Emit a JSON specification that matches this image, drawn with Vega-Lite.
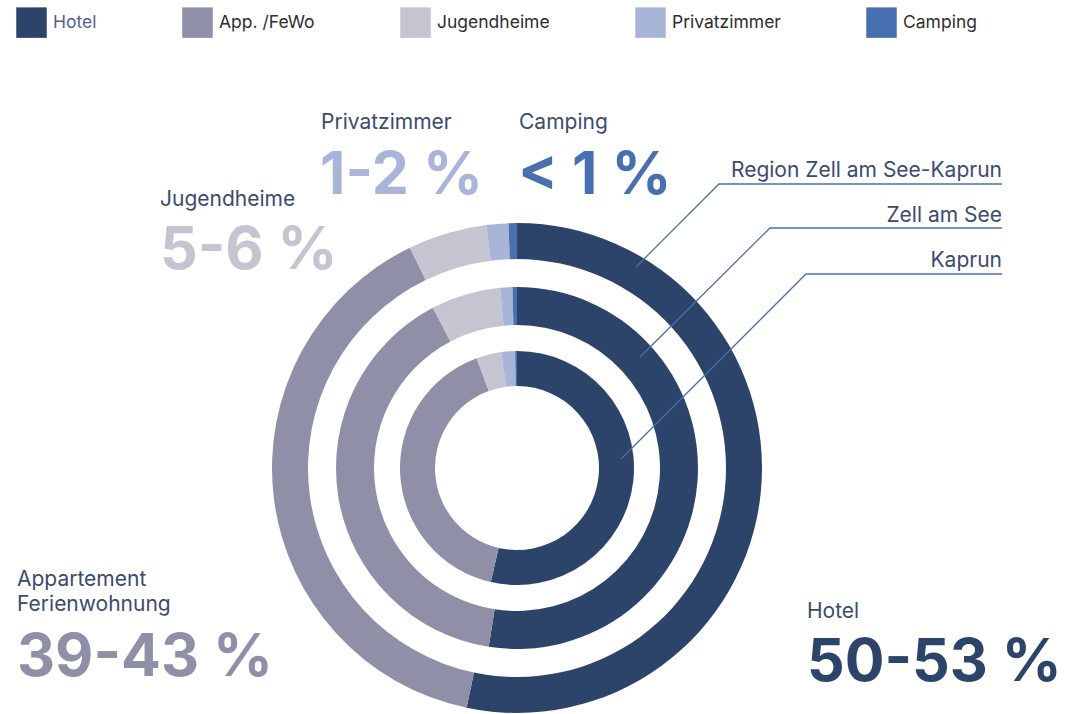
{
  "$schema": "https://vega.github.io/schema/vega-lite/v6.json",
  "width": 1034,
  "height": 492,
  "autosize": {"type": "none"},
  "padding": {"left": 0, "top": 222, "right": 34, "bottom": 0},
  "background": "white",
  "config": {"view": {"stroke": null}, "font": "Inter"},
  "datasets": {
    "shares": [
      {"ring": "Region Zell am See-Kaprun", "cat": "Hotel", "share": 53.3},
      {"ring": "Region Zell am See-Kaprun", "cat": "App. /FeWo", "share": 39.5},
      {"ring": "Region Zell am See-Kaprun", "cat": "Jugendheime", "share": 5.2},
      {"ring": "Region Zell am See-Kaprun", "cat": "Privatzimmer", "share": 1.45},
      {"ring": "Region Zell am See-Kaprun", "cat": "Camping", "share": 0.55},
      {"ring": "Zell am See", "cat": "Hotel", "share": 52.5},
      {"ring": "Zell am See", "cat": "App. /FeWo", "share": 39.8},
      {"ring": "Zell am See", "cat": "Jugendheime", "share": 6.2},
      {"ring": "Zell am See", "cat": "Privatzimmer", "share": 1.1},
      {"ring": "Zell am See", "cat": "Camping", "share": 0.4},
      {"ring": "Kaprun", "cat": "Hotel", "share": 53.6},
      {"ring": "Kaprun", "cat": "App. /FeWo", "share": 40.8},
      {"ring": "Kaprun", "cat": "Jugendheime", "share": 3.45},
      {"ring": "Kaprun", "cat": "Privatzimmer", "share": 1.9},
      {"ring": "Kaprun", "cat": "Camping", "share": 0.25}
    ],
    "leaders": [
      {"ring": "Region Zell am See-Kaprun", "seq": 1, "x": 119, "y": 201},
      {"ring": "Region Zell am See-Kaprun", "seq": 2, "x": 202, "y": 284},
      {"ring": "Region Zell am See-Kaprun", "seq": 3, "x": 485, "y": 284},
      {"ring": "Zell am See", "seq": 1, "x": 123, "y": 111},
      {"ring": "Zell am See", "seq": 2, "x": 253, "y": 240},
      {"ring": "Zell am See", "seq": 3, "x": 485, "y": 240},
      {"ring": "Kaprun", "seq": 1, "x": 104, "y": 9},
      {"ring": "Kaprun", "seq": 2, "x": 289, "y": 194},
      {"ring": "Kaprun", "seq": 3, "x": 485, "y": 194}
    ],
    "labels": [
      {"kind": "ring", "text": "Region Zell am See-Kaprun", "x": 485, "y": 291},
      {"kind": "ring", "text": "Zell am See", "x": 485, "y": 246},
      {"kind": "ring", "text": "Kaprun", "x": 485, "y": 201},
      {"kind": "name", "text": "Privatzimmer", "x": -196, "y": 339},
      {"kind": "name", "text": "Camping", "x": 2, "y": 339},
      {"kind": "name", "text": "Jugendheime", "x": -357, "y": 262},
      {"kind": "name", "text": "Appartement", "x": -500, "y": -118},
      {"kind": "name", "text": "Ferienwohnung", "x": -500, "y": -143},
      {"kind": "name", "text": "Hotel", "x": 290, "y": -150},
      {"kind": "pct", "cat": "Privatzimmer", "text": "1-2 %", "x": -197, "y": 274},
      {"kind": "pct", "cat": "Camping", "text": "< 1 %", "x": 1, "y": 274},
      {"kind": "pct", "cat": "Jugendheime", "text": "5-6 %", "x": -357, "y": 199},
      {"kind": "pct", "cat": "App. /FeWo", "text": "39-43 %", "x": -500, "y": -208},
      {"kind": "pct", "cat": "Hotel", "text": "50-53 %", "x": 290, "y": -213}
    ]
  },
  "layer": [
    {
      "data": {"name": "shares"},
      "transform": [{"filter": "datum.ring === 'Region Zell am See-Kaprun'"}],
      "mark": {"type": "arc", "radius": 245, "radius2": 209},
      "encoding": {
        "theta": {"field": "share", "type": "quantitative", "stack": true},
        "order": {"field": "share", "sort": "descending"},
        "color": {
          "field": "cat", "type": "nominal",
          "sort": ["Hotel", "App. /FeWo", "Jugendheime", "Privatzimmer", "Camping"],
          "scale": {
            "domain": ["Hotel", "App. /FeWo", "Jugendheime", "Privatzimmer", "Camping"],
            "range": ["#2d446a", "#8f90a8", "#c5c5d2", "#a9b4d9", "#4870b0"]
          },
          "legend": {
            "title": null,
            "orient": "none",
            "legendX": 16,
            "legendY": -215,
            "direction": "horizontal",
            "symbolType": "square",
            "symbolSize": 930,
            "symbolStrokeWidth": 0,
            "symbolOpacity": 1,
            "labelFont": "Inter",
            "labelFontSize": 17.5,
            "labelOffset": 6,
            "columnPadding": 85,
            "labelLimit": 300,
            "encode": {
              "labels": {"update": {"fill": {"signal": "datum.label === 'Hotel' ? '#4f6390' : '#2e2e2e'"}}}
            }
          }
        }
      }
    },
    {
      "data": {"name": "shares"},
      "transform": [{"filter": "datum.ring === 'Zell am See'"}],
      "mark": {"type": "arc", "radius": 181, "radius2": 143},
      "encoding": {
        "theta": {"field": "share", "type": "quantitative", "stack": true},
        "order": {"field": "share", "sort": "descending"},
        "color": {"field": "cat", "type": "nominal", "sort": ["Hotel", "App. /FeWo", "Jugendheime", "Privatzimmer", "Camping"]}
      }
    },
    {
      "data": {"name": "shares"},
      "transform": [{"filter": "datum.ring === 'Kaprun'"}],
      "mark": {"type": "arc", "radius": 117, "radius2": 82},
      "encoding": {
        "theta": {"field": "share", "type": "quantitative", "stack": true},
        "order": {"field": "share", "sort": "descending"},
        "color": {"field": "cat", "type": "nominal", "sort": ["Hotel", "App. /FeWo", "Jugendheime", "Privatzimmer", "Camping"]}
      }
    },
    {
      "data": {"name": "leaders"},
      "mark": {"type": "line", "color": "#4a6fb0", "strokeWidth": 1.3},
      "encoding": {
        "x": {"field": "x", "type": "quantitative", "scale": {"domain": [-517, 517], "nice": false, "zero": false}, "axis": null},
        "y": {"field": "y", "type": "quantitative", "scale": {"domain": [-246, 246], "nice": false, "zero": false}, "axis": null},
        "detail": {"field": "ring"},
        "order": {"field": "seq"}
      }
    },
    {
      "data": {"name": "labels"},
      "transform": [{"filter": "datum.kind === 'ring'"}],
      "mark": {"type": "text", "align": "right", "baseline": "alphabetic", "fontSize": 21, "font": "Inter", "fill": "#3b4b6e"},
      "encoding": {
        "x": {"field": "x", "type": "quantitative"},
        "y": {"field": "y", "type": "quantitative"},
        "text": {"field": "text"}
      }
    },
    {
      "data": {"name": "labels"},
      "transform": [{"filter": "datum.kind === 'name'"}],
      "mark": {"type": "text", "align": "left", "baseline": "alphabetic", "fontSize": 21, "font": "Inter", "fill": "#3b4b6e"},
      "encoding": {
        "x": {"field": "x", "type": "quantitative"},
        "y": {"field": "y", "type": "quantitative"},
        "text": {"field": "text"}
      }
    },
    {
      "data": {"name": "labels"},
      "transform": [{"filter": "datum.kind === 'pct'"}],
      "mark": {"type": "text", "align": "left", "baseline": "alphabetic", "fontSize": 59, "font": "Inter", "fontWeight": "bold", "opacity": 1},
      "encoding": {
        "x": {"field": "x", "type": "quantitative"},
        "y": {"field": "y", "type": "quantitative"},
        "text": {"field": "text"},
        "color": {"field": "cat", "type": "nominal", "sort": ["Hotel", "App. /FeWo", "Jugendheime", "Privatzimmer", "Camping"]}
      }
    }
  ]
}
